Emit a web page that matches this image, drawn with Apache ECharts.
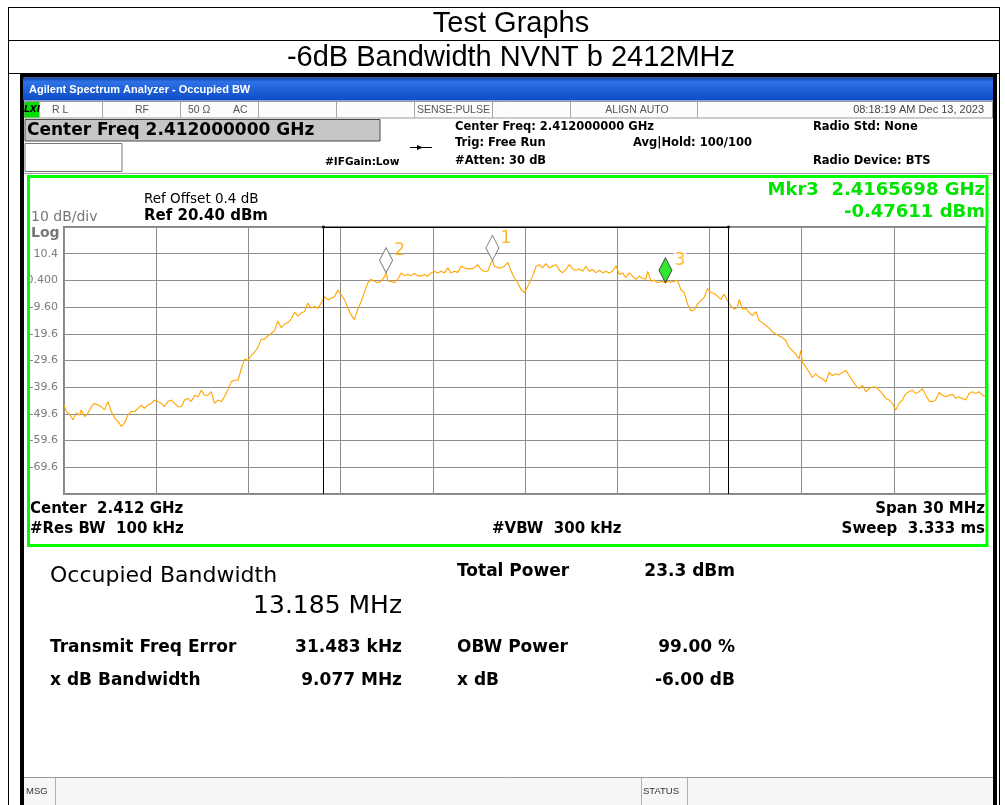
<!DOCTYPE html>
<html>
<head>
<meta charset="utf-8">
<script src="https://cdn.jsdelivr.net/npm/echarts@6/dist/echarts.min.js"></script>
<style>
html,body{margin:0;padding:0;background:#fff;}
#c{width:1005px;height:805px;}
</style>
</head>
<body>
<div id="c"></div>
<script>
// ---------- data ----------
const spanStartMHz = 2397;
const spanEndMHz = 2427;
const gridStepMHz = 3;

const traceOffsetMHz = [
  0.00,0.08,0.19,0.29,0.40,0.51,0.56,0.67,0.78,0.89,0.99,1.11,1.21,1.32,1.43,1.54,1.65,1.76,1.87,1.97,
  2.08,2.19,2.30,2.41,2.52,2.62,2.73,2.84,2.95,3.06,3.17,3.27,3.38,3.49,3.60,3.71,3.82,3.92,4.03,4.14,
  4.25,4.36,4.47,4.57,4.68,4.79,4.90,5.01,5.12,5.22,5.33,5.44,5.55,5.66,5.77,5.88,5.98,6.09,6.20,6.31,
  6.42,6.53,6.63,6.74,6.85,6.96,7.07,7.18,7.28,7.39,7.50,7.61,
  7.72,7.83,7.93,8.04,8.15,8.26,8.37,8.48,8.59,8.69,8.80,8.91,9.02,9.13,9.24,9.34,9.45,9.56,9.67,9.78,
  9.89,9.99,10.10,10.21,10.32,10.43,10.48,10.54,10.64,10.75,10.86,10.97,11.08,11.19,11.29,11.40,11.51,11.62,11.73,11.84,
  11.94,12.05,12.16,12.27,12.38,12.49,12.59,12.70,12.81,12.92,13.03,13.14,13.24,13.35,13.46,13.57,13.68,13.79,13.89,13.95,
  14.00,14.11,14.22,14.33,14.44,14.55,14.65,14.76,14.87,14.98,15.09,
  15.25,15.36,15.47,15.57,15.68,15.79,15.90,16.01,16.12,16.22,16.33,16.44,16.55,16.66,16.77,16.88,16.98,17.09,17.20,17.31,
  17.42,17.53,17.63,17.74,17.85,17.96,18.07,18.18,18.28,18.39,18.50,18.61,18.72,18.83,18.93,18.99,19.10,19.21,19.31,19.42,
  19.57,19.64,19.75,19.86,19.96,20.07,20.18,20.29,20.40,20.51,20.61,20.72,20.83,20.94,21.05,21.16,21.26,21.37,21.48,21.59,
  21.70,21.81,21.91,21.97,22.08,22.19,22.29,22.40,22.51,22.62,22.73,22.84,22.94,
  23.05,23.16,23.27,23.38,23.49,23.59,23.70,23.81,23.92,23.97,24.03,24.14,24.25,24.35,24.46,24.57,24.68,24.79,24.90,
  25.00,25.11,25.22,25.33,25.44,25.55,25.65,25.76,25.87,25.98,26.09,26.20,26.30,26.41,26.52,26.63,26.74,26.85,26.95,
  27.06,27.17,27.28,27.39,27.50,27.60,27.71,27.82,27.93,28.04,28.15,28.26,28.36,28.47,28.58,28.69,28.80,28.91,
  29.01,29.12,29.23,29.34,29.45,29.56,29.66,29.77,29.88,30.00
];
const traceLevelDbm = [
  -46.3,-48.7,-50,-51.8,-49.3,-50,-48.1,-50.6,-49.3,-46.9,-45.7,-46.3,-46.9,-48.1,-45,-48.7,-51.2,-52.4,-54.3,-53,
  -50,-48.7,-48.7,-47.5,-46.3,-47.5,-46.3,-45.7,-44.4,-45,-45.7,-46.9,-45,-44.4,-45.7,-46.9,-46.9,-44.4,-43.8,-45,
  -42.6,-43.2,-40.7,-42.6,-42.6,-41.3,-45.7,-44.4,-45,-43.2,-40.7,-37.6,-37,-37,-32.7,-29,-29.6,-27.8,-26.5,-24.7,
  -21.6,-21.6,-20.4,-19.5,-18.5,-14.8,-17.3,-16,-15.4,-14.2,-11.5,-13,
  -11.8,-11.2,-8.1,-10,-9.4,-10,-8.1,-5.7,-6.9,-6.3,-5.7,-3.2,-5,-6.9,-10,-12.4,-14.3,-10.3,-7.5,-3.8,
  -0.5,0.8,0.1,-0.5,0.1,1.8,3.3,0.1,0.1,-0.5,0.8,3.2,2.2,2.6,2.2,3,2.2,2,2.6,2,
  3.2,3.8,3.2,3.8,3.2,5.1,3.2,3.8,3.4,5.7,5.1,4.7,4.7,5.1,6.3,4.5,3.8,3.8,6.9,7.9,
  5.7,5.1,5.1,5.7,7.2,3.8,1.4,-0.5,-3,-4.2,-1.8,
  2,5.7,6.3,5.1,6.7,5.1,5.7,6.3,4.2,3.2,4.5,6.3,4.7,4.2,4.7,3.8,5.7,3.8,4.5,3.2,
  4.2,3.2,3.8,3.2,3.8,5.9,2.6,3.2,1.4,3.2,2,0.8,2,1.1,0.8,3.8,0.1,0.5,-0.5,0.1,
  -0.48,0.1,-0.3,0.1,0.5,-3,-4.2,-8.5,-11,-10.6,-8.5,-7.3,-6,-2.7,-4.2,-4.5,-5.5,-6.7,-4.8,-7.3,
  -9.1,-10.4,-9.7,-6.7,-10.4,-10.1,-11.6,-12.8,-11.3,-14.6,-15.5,-16.5,-17.5,
  -18.9,-19.7,-20.4,-21,-22.2,-24.7,-25.9,-27.2,-29,-25.9,-30.3,-32.1,-34,-35.9,-34.6,-35.9,-36.5,-37.7,-34,
  -35.3,-34.6,-35,-34,-33.3,-35.3,-37,-38.9,-40.1,-38.9,-41.3,-40.1,-39.5,-39.5,-40.7,-42,-43.8,-44.4,-45.7,
  -48.1,-45.7,-44.4,-42,-41.3,-40.7,-42,-41.3,-40.1,-42.6,-44.8,-45,-44.4,-41.6,-42.6,-43.2,-42.6,-42.3,
  -43.8,-43.2,-43.8,-44.4,-42,-41.3,-42,-41.3,-42.6,-43.2
];

const markerNames = ['1', '2', '3'];
const markerFreqMHz = [2410.94, 2407.48, 2416.5698];
const markerLevelDbm = [7.9, 3.3, -0.476];

const obwEdgesMHz = [2405.44, 2418.62];

const refLevelDbm = 20.4;
const bottomLevelDbm = -79.6;
const yGridValues = [-79.6, -69.6, -59.6, -49.6, -39.6, -29.6, -19.6, -9.6, 0.4, 10.4, 20.4];
const yLabelValues = [-69.6, -59.6, -49.6, -39.6, -29.6, -19.6, -9.6, 0.4, 10.4];
const yLabelTexts = ['-69.6', '-59.6', '-49.6', '-39.6', '-29.6', '-19.6', '-9.60', '0.400', '10.4'];

// ---------- helpers for the analyzer chrome ----------
const UI = 'DejaVu Sans';
const ARIAL = 'Liberation Sans';
function txt(x, y, text, size, o) {
  o = o || {};
  return {
    type: 'text', x: x, y: y, z: o.z || 50, silent: true,
    style: {
      text: text, fontSize: size, fontFamily: o.family || UI,
      fontWeight: o.bold ? 'bold' : 'normal', fontStyle: o.italic ? 'italic' : 'normal',
      fill: o.color || '#000', align: o.align || 'left', verticalAlign: 'middle',
      backgroundColor: o.bg, padding: o.pad
    }
  };
}
function rect(x, y, w, h, style, z) {
  return { type: 'rect', z: z || 5, silent: true, shape: { x: x, y: y, width: w, height: h }, style: style };
}
function line(x1, y1, x2, y2, color, w, z) {
  return { type: 'line', z: z || 20, silent: true, shape: { x1: x1, y1: y1, x2: x2, y2: y2 },
           style: { stroke: color || '#000', lineWidth: w || 1 } };
}

const graphics = [];
// report table
graphics.push(line(8, 7.5, 1000, 7.5, '#000'));
graphics.push(line(8, 40.5, 1000, 40.5, '#000'));
graphics.push(line(8, 73.5, 1000, 73.5, '#000'));
graphics.push(line(8.5, 7, 8.5, 805, '#000'));
graphics.push(line(999.5, 7, 999.5, 805, '#000'));
graphics.push(txt(511, 23.5, 'Test Graphs', 29, { family: ARIAL, align: 'center' }));
graphics.push(txt(511, 57.5, '-6dB Bandwidth NVNT b 2412MHz', 29, { family: ARIAL, align: 'center' }));

// analyzer frame (black strips, no overlap with plot)
graphics.push(rect(20, 74, 977, 3.5, { fill: '#000' }));
graphics.push(rect(20, 74, 4, 731, { fill: '#000' }));
graphics.push(rect(993, 74, 4, 731, { fill: '#000' }));

// title bar
graphics.push(rect(23, 77.5, 970, 23, {
  fill: { type: 'linear', x: 0, y: 0, x2: 0, y2: 1, colorStops: [
    { offset: 0, color: '#0b3fa6' }, { offset: 0.18, color: '#2f72e6' },
    { offset: 0.6, color: '#1c5ed6' }, { offset: 1, color: '#0d4cc2' } ] }
}));
graphics.push(txt(29, 89.5, 'Agilent Spectrum Analyzer - Occupied BW', 11, { family: ARIAL, bold: true, color: '#fff' }));

// status row
graphics.push(rect(24.5, 101.5, 968, 16.5, { fill: '#fcfcfc', stroke: '#9a9a9a', lineWidth: 1 }));
[102.5, 180.5, 258.5, 336.5, 414.5, 492.5, 570.5, 697.5].forEach(function (x) {
  graphics.push(line(x, 102, x, 118, '#a8a8a8'));
});
graphics.push(rect(24.5, 102, 15, 15.5, { fill: '#00dc00' }, 8));
graphics.push(txt(32, 110, 'LXI', 9, { bold: true, italic: true, align: 'center' }));
graphics.push(txt(52, 110, 'R L', 10.5, { family: ARIAL, color: '#555' }));
graphics.push(txt(135, 110, 'RF', 10.5, { family: ARIAL, color: '#555' }));
graphics.push(txt(188, 110, '50 Ω', 10.5, { family: ARIAL, color: '#555' }));
graphics.push(txt(233, 110, 'AC', 10.5, { family: ARIAL, color: '#555' }));
graphics.push(txt(417, 110, 'SENSE:PULSE', 10.5, { family: ARIAL, color: '#555' }));
graphics.push(txt(637, 110, 'ALIGN AUTO', 10.5, { family: ARIAL, color: '#555', align: 'center' }));
graphics.push(txt(984, 110, '08:18:19 AM Dec 13, 2023', 11, { family: ARIAL, color: '#444', align: 'right' }));

// header block
graphics.push(rect(25, 119.5, 355, 21.5, { fill: '#c6c6c6', stroke: '#4a4a4a', lineWidth: 1 }));
graphics.push(txt(27, 130.5, 'Center Freq 2.412000000 GHz', 17, { bold: true }));
graphics.push(rect(25, 143.5, 97, 28, { fill: '#fff', stroke: '#777', lineWidth: 1 }));
graphics.push(txt(325, 162, '#IFGain:Low', 10.5, { bold: true }));
graphics.push(line(410, 147.5, 432, 147.5, '#000'));
graphics.push({ type: 'polygon', z: 21, silent: true, shape: { points: [[417, 145], [417, 150], [423, 147.5]] }, style: { fill: '#000' } });
graphics.push(txt(455, 127, 'Center Freq: 2.412000000 GHz', 11.5, { bold: true }));
graphics.push(txt(455, 143.5, 'Trig: Free Run', 11.5, { bold: true }));
graphics.push(txt(455, 161, '#Atten: 30 dB', 11.5, { bold: true }));
graphics.push(txt(633, 143.5, 'Avg|Hold: 100/100', 11.5, { bold: true }));
graphics.push(txt(813, 127, 'Radio Std: None', 11.5, { bold: true }));
graphics.push(txt(813, 161, 'Radio Device: BTS', 11.5, { bold: true }));
graphics.push(line(24, 173.5, 993, 173.5, '#a0a0a0'));

// graph panel
graphics.push(rect(28.5, 176.5, 958.5, 369, { fill: 'none', stroke: '#00ff00', lineWidth: 3 }, 60));
graphics.push(txt(31, 217, '10 dB/div', 14, { color: '#777' }));
graphics.push(txt(31, 233, 'Log', 14, { bold: true, color: '#777' }));
graphics.push(txt(144, 199.5, 'Ref Offset 0.4 dB', 13.5));
graphics.push(txt(144, 216.5, 'Ref 20.40 dBm', 15, { bold: true }));
graphics.push(txt(985, 190, 'Mkr3  2.4165698 GHz', 18, { bold: true, color: '#00e400', align: 'right' }));
graphics.push(txt(985, 212, '-0.47611 dBm', 18, { bold: true, color: '#00e400', align: 'right' }));
graphics.push(txt(30, 509, 'Center  2.412 GHz', 15, { bold: true }));
graphics.push(txt(30, 529, '#Res BW  100 kHz', 15, { bold: true }));
graphics.push(txt(492, 529, '#VBW  300 kHz', 15, { bold: true }));
graphics.push(txt(985, 509, 'Span 30 MHz', 15, { bold: true, align: 'right' }));
graphics.push(txt(985, 529, 'Sweep  3.333 ms', 15, { bold: true, align: 'right' }));

// measurement results
graphics.push(txt(50, 576, 'Occupied Bandwidth', 22));
graphics.push(txt(402, 606, '13.185 MHz', 25, { align: 'right' }));
graphics.push(txt(457, 572, 'Total Power', 17, { bold: true }));
graphics.push(txt(735, 572, '23.3 dBm', 17, { bold: true, align: 'right' }));
graphics.push(txt(50, 648, 'Transmit Freq Error', 17, { bold: true }));
graphics.push(txt(402, 648, '31.483 kHz', 17, { bold: true, align: 'right' }));
graphics.push(txt(457, 648, 'OBW Power', 17, { bold: true }));
graphics.push(txt(735, 648, '99.00 %', 17, { bold: true, align: 'right' }));
graphics.push(txt(50, 681, 'x dB Bandwidth', 17, { bold: true }));
graphics.push(txt(402, 681, '9.077 MHz', 17, { bold: true, align: 'right' }));
graphics.push(txt(457, 681, 'x dB', 17, { bold: true }));
graphics.push(txt(735, 681, '-6.00 dB', 17, { bold: true, align: 'right' }));

// status bar
graphics.push(rect(24, 778, 969, 27, { fill: '#f6f6f6' }));
graphics.push(line(24, 777.5, 993, 777.5, '#9a9a9a'));
[55.5, 641.5, 687.5].forEach(function (x) { graphics.push(line(x, 778, x, 805, '#b0b0b0')); });
graphics.push(txt(26, 791, 'MSG', 9.5, { family: ARIAL, color: '#333' }));
graphics.push(txt(643, 791, 'STATUS', 9.5, { family: ARIAL, color: '#333' }));

// ---------- chart ----------
const traceData = traceOffsetMHz.map(function (o, i) { return [spanStartMHz + o, traceLevelDbm[i]]; });
const markerColors = ['#ffffff', '#ffffff', '#00e000'];
const markerData = markerFreqMHz.map(function (f, i) {
  return {
    name: markerNames[i], value: [f, markerLevelDbm[i]],
    itemStyle: { color: markerColors[i], borderColor: i === 2 ? '#2a2a2a' : '#555', borderWidth: 1 },
    label: i === 2 ? { backgroundColor: '#fff', padding: [0, 1] } : {}
  };
});

const chart = echarts.init(document.getElementById('c'), null, { renderer: 'canvas' });
chart.setOption({
  animation: false,
  backgroundColor: '#fff',
  graphic: graphics,
  grid: { left: 64, top: 227, width: 922, height: 267, show: true, borderColor: '#858585', borderWidth: 2, backgroundColor: 'transparent' },
  xAxis: {
    type: 'value', min: spanStartMHz, max: spanEndMHz, interval: gridStepMHz,
    axisLine: { show: false }, axisTick: { show: false }, axisLabel: { show: false },
    splitLine: { show: true, lineStyle: { color: '#8e8e8e', width: 1 } }
  },
  yAxis: {
    type: 'value', min: bottomLevelDbm, max: refLevelDbm,
    axisLine: { show: false },
    axisTick: { show: false, customValues: yGridValues },
    axisLabel: {
      customValues: yLabelValues,
      formatter: function (v) {
        for (let i = 0; i < yLabelValues.length; i++) {
          if (Math.abs(yLabelValues[i] - v) < 1e-6) return yLabelTexts[i];
        }
        return '';
      },
      color: '#7a7a7a', fontSize: 11, fontFamily: UI, margin: 6
    },
    splitLine: { show: true, lineStyle: { color: '#8e8e8e', width: 1 } }
  },
  series: [
    {
      type: 'line', data: traceData, showSymbol: false, symbol: 'none', z: 3,
      lineStyle: { color: '#ffa500', width: 1.1 },
      markLine: {
        silent: true, symbol: ['none', 'none'], label: { show: false },
        lineStyle: { color: '#000', width: 1, type: 'solid' },
        data: [
          { xAxis: obwEdgesMHz[0] },
          { xAxis: obwEdgesMHz[1] },
          [ { coord: [obwEdgesMHz[0], refLevelDbm], symbol: 'circle', symbolSize: 3 },
            { coord: [obwEdgesMHz[1], refLevelDbm], symbol: 'circle', symbolSize: 3 } ]
        ]
      }
    },
    {
      type: 'scatter', data: markerData, z: 5,
      symbol: 'diamond', symbolSize: [13, 25], symbolOffset: [0, '-50%'],
      label: {
        show: true, formatter: '{b}', position: [15, -5],
        color: '#ffa500', fontSize: 17, fontFamily: UI
      }
    }
  ]
});
</script>
</body>
</html>
